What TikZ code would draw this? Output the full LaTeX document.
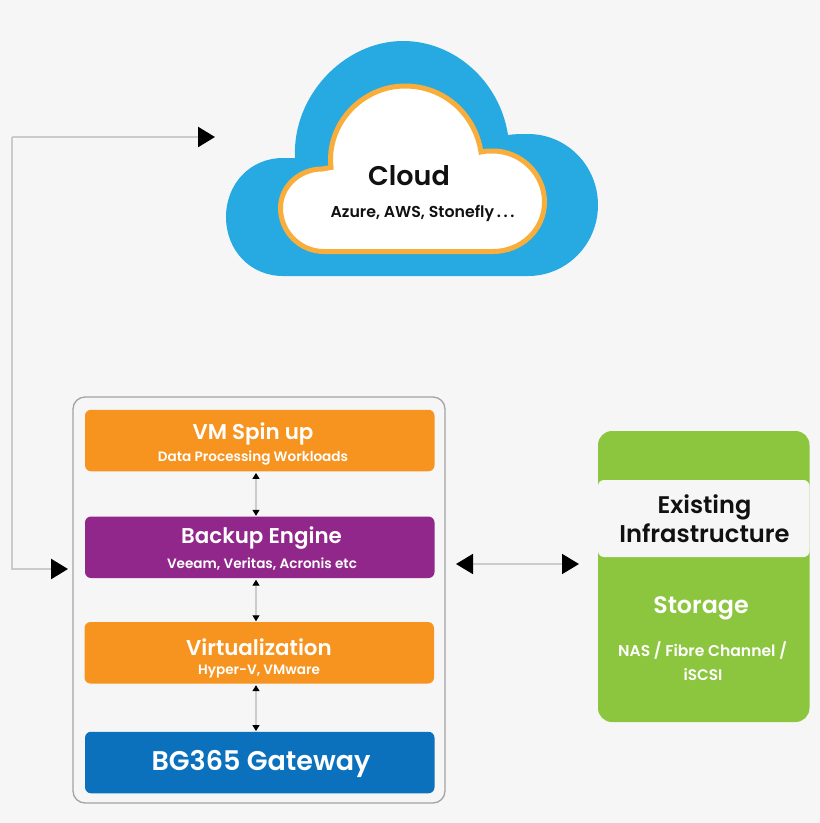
\documentclass[tikz,border=0pt]{standalone}
\usepackage{fontspec}
\setmainfont{Poppins}
\newfontfamily\psb{Poppins SemiBold}
\newfontfamily\pmd{Poppins Medium}
\usetikzlibrary{arrows.meta}
\definecolor{bgc}{HTML}{F6F6F6}
\definecolor{orangebox}{HTML}{F79420}
\definecolor{purplebox}{HTML}{92278B}
\definecolor{bluebox}{HTML}{0C71BC}
\definecolor{greenbox}{HTML}{8CC63F}
\definecolor{cloudblue}{HTML}{27AAE1}
\definecolor{ring}{HTML}{F9AE3B}
\definecolor{conn}{HTML}{CBCBCB}
\definecolor{frame}{HTML}{A3A3A3}
\definecolor{inktext}{HTML}{111111}
\tikzset{
  layerbox/.style={inner sep=0pt,minimum width=349.5pt,minimum height=61.5pt,rounded corners=6pt},
  head/.style={inner sep=0pt,anchor=base,text=white,font=\psb\fontsize{21.4}{26}\selectfont},
  sub/.style={inner sep=0pt,anchor=base,text=white,font=\psb\fontsize{13.6}{15}\selectfont},
  dark/.style={inner sep=0pt,anchor=base,text=inktext},
  smallarrow/.style={conn,line width=1.2pt,{Triangle[black,length=6pt,width=7pt]}-{Triangle[black,length=6pt,width=7pt]}},
}
\begin{document}
\begin{tikzpicture}[x=1pt,y=-1pt]
\useasboundingbox (0,0) rectangle (820,823);
\fill[bgc] (0,0) rectangle (820,823);
% cloud
\fill[cloudblue] (295,158) .. controls (292,95) and (345,41) .. (403,41)
  .. controls (455,41) and (500,82) .. (508,135)
  .. controls (514,134) and (521,134) .. (528,134)
  .. controls (567,134) and (598,166) .. (598,205)
  .. controls (598,244) and (567,276) .. (528,276)
  -- (283,276)
  .. controls (250,276) and (226,250) .. (226,217)
  .. controls (226,184) and (250,158) .. (283,158)
  .. controls (287,158) and (291,158) .. (295,158) -- cycle;
\draw[ring,line width=5pt,fill=white,line join=miter] (331,167.5)
  .. controls (326,124) and (362,86) .. (405,86)
  .. controls (444,86) and (475,114) .. (481,152)
  .. controls (485,151) and (489,151) .. (493,151)
  .. controls (521,151) and (544.5,174) .. (544.5,202)
  .. controls (544.5,230) and (521,251.5) .. (493,251.5)
  -- (324,251.5)
  .. controls (300,251.5) and (280.5,232) .. (280.5,208)
  .. controls (280.5,186) and (300,169) .. (322,169)
  .. controls (325,168.5) and (328,168) .. (331,167.5) -- cycle;
\node[dark,font=\psb\fontsize{27}{30}\selectfont] (cloudlabel) at (409,185) {Cloud};
\node[dark,font=\psb\fontsize{15.8}{17}\selectfont] (cloudsub) at (422.5,217) {Azure, AWS, Stonefly\,.\,.\,.};
% frame and layers
\node[draw=frame,line width=1.3pt,rounded corners=12pt,inner sep=0pt,minimum width=372pt,minimum height=406pt] (outer) at (259,600) {};
\node[layerbox,fill=orangebox] (vm) at (259.75,440.5) {};
\node[layerbox,fill=purplebox] (backup) at (259.75,547.25) {};
\node[layerbox,fill=orangebox] (virt) at (259.25,652.75) {};
\node[layerbox,fill=bluebox] (gateway) at (259.75,762.5) {};
\node[head] (vmt) at (253,439) {VM Spin up};
\node[sub] (vms) at (253,461.5) {Data Processing Workloads};
\node[head] (bkt) at (261.5,543) {Backup Engine};
\node[sub] (bks) at (262,568) {Veeam, Veritas, Acronis etc};
\node[head] (vtt) at (259,655) {Virtualization};
\node[sub] (vts) at (259,674.5) {Hyper-V, VMware};
\node[inner sep=0pt,anchor=base,text=white,font=\psb\fontsize{27}{30}\selectfont] (gwt) at (261,770) {BG365 Gateway};
% storage
\node[fill=greenbox,rounded corners=14pt,inner sep=0pt,minimum width=211.5pt,minimum height=291pt] (green) at (703.75,576.5) {};
\node[fill=bgc,rounded corners=6pt,inner sep=0pt,minimum width=211.5pt,minimum height=77pt] (band) at (703.75,518.5) {};
\node[dark,font=\psb\fontsize{24}{28}\selectfont] (ex1) at (704.5,513) {Existing};
\node[dark,font=\psb\fontsize{24.2}{28}\selectfont] (ex2) at (704.5,542) {Infrastructure};
\node[head,font=\psb\fontsize{23.8}{28}\selectfont] (st) at (701,613) {Storage};
\node[sub,font=\psb\fontsize{15.6}{17}\selectfont] (nas) at (702.5,656.5) {NAS / Fibre Channel /};
\node[sub,font=\psb\fontsize{15.3}{17}\selectfont] (iscsi) at (703,680.5) {iSCSI};
% connectors
\draw[smallarrow] ([yshift=-1.5pt]vm.south -| 256,0) -- ([yshift=0.5pt]backup.north -| 256,0);
\draw[smallarrow] ([yshift=-1.5pt]backup.south -| 256,0) -- ([yshift=0.5pt]virt.north -| 256,0);
\draw[smallarrow] ([yshift=-1.5pt]virt.south -| 256,0) -- ([yshift=0.5pt]gateway.north -| 256,0);
\coordinate (cloudin) at (215,137);
\coordinate (elbowtop) at (12,137);
\coordinate (elbowbottom) at (12,569);
\coordinate (boxin) at (68,569);
\draw[conn,line width=2.5pt,-{.[sep=6pt]Triangle[black,length=17pt,width=20pt]}] (elbowtop) -- (cloudin);
\draw[conn,line width=2.5pt,-{.[sep=4pt]Triangle[black,length=17pt,width=20pt]}] (elbowtop) -- (elbowbottom) -- (boxin);
\coordinate (linkleft) at (456,564);
\coordinate (linkright) at (579,564);
\draw[conn,line width=1.8pt,{Triangle[black,length=17pt,width=20pt].[sep=3pt]}-{.[sep=3pt]Triangle[black,length=17pt,width=20pt]}] (linkleft) -- (linkright);
\end{tikzpicture}
\end{document}
